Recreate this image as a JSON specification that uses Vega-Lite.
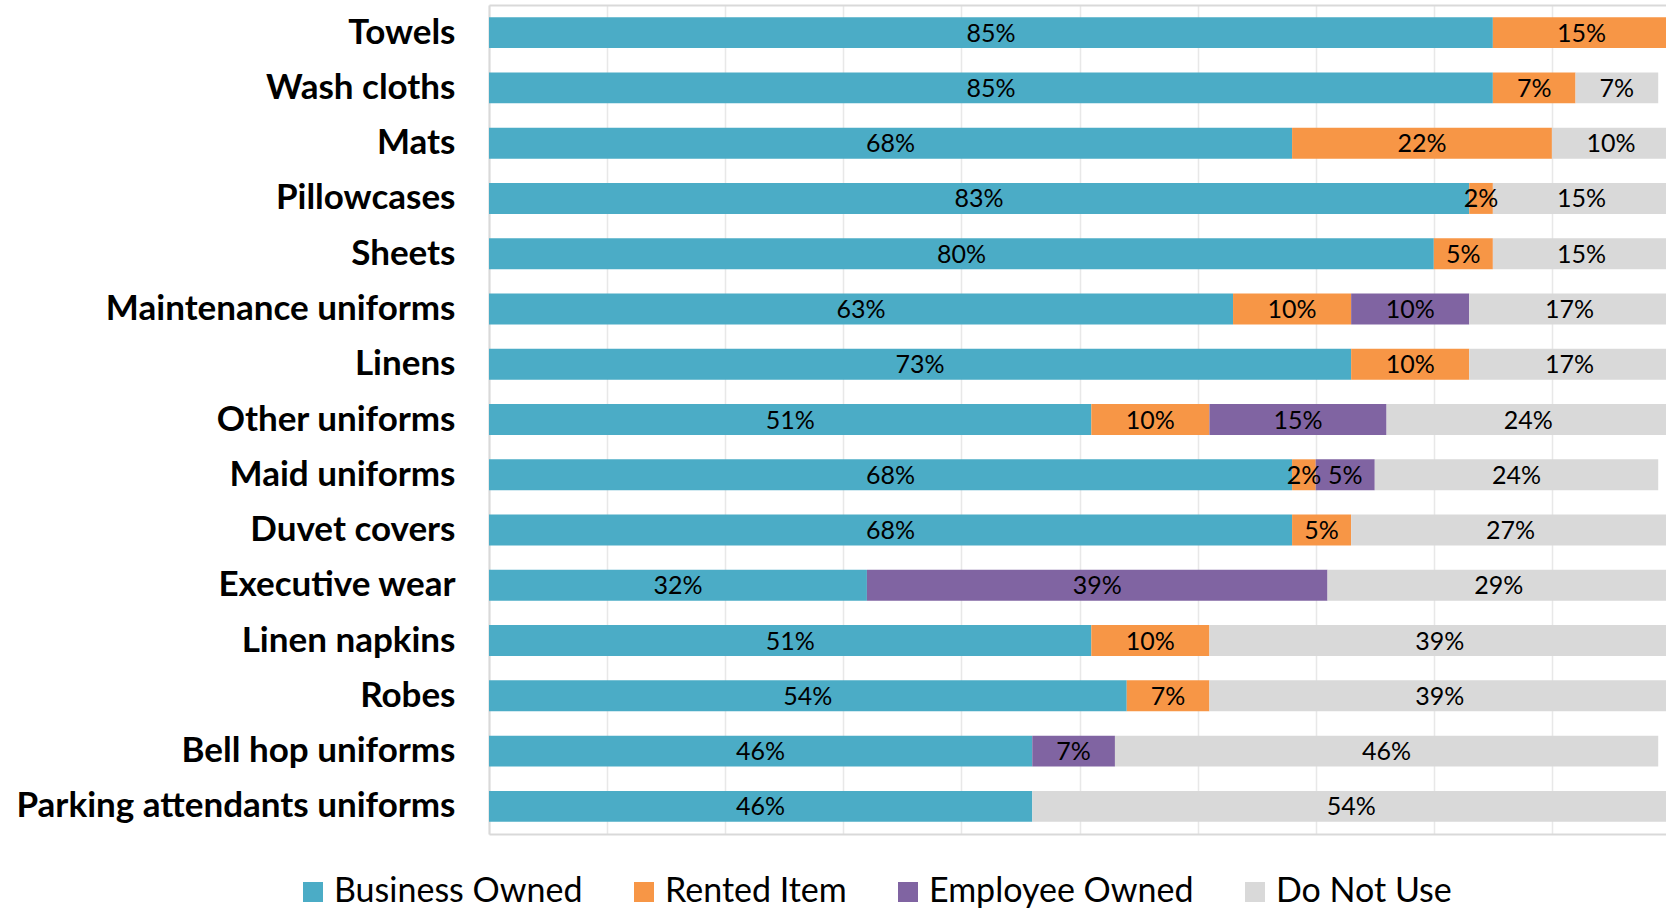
{
  "$schema": "https://vega.github.io/schema/vega-lite/v6.json",
  "autosize": {"type": "none"},
  "padding": {"left": 489, "top": 5, "right": 0, "bottom": 76},
  "width": 1177,
  "height": 829,
  "background": "white",
  "config": {"view": {"stroke": null}},
  "data": {"values": [
    {"item": "Towels", "type": "Business Owned", "value": 85},
    {"item": "Towels", "type": "Rented Item", "value": 15},
    {"item": "Wash cloths", "type": "Business Owned", "value": 85},
    {"item": "Wash cloths", "type": "Rented Item", "value": 7},
    {"item": "Wash cloths", "type": "Do Not Use", "value": 7},
    {"item": "Mats", "type": "Business Owned", "value": 68},
    {"item": "Mats", "type": "Rented Item", "value": 22},
    {"item": "Mats", "type": "Do Not Use", "value": 10},
    {"item": "Pillowcases", "type": "Business Owned", "value": 83},
    {"item": "Pillowcases", "type": "Rented Item", "value": 2},
    {"item": "Pillowcases", "type": "Do Not Use", "value": 15},
    {"item": "Sheets", "type": "Business Owned", "value": 80},
    {"item": "Sheets", "type": "Rented Item", "value": 5},
    {"item": "Sheets", "type": "Do Not Use", "value": 15},
    {"item": "Maintenance uniforms", "type": "Business Owned", "value": 63},
    {"item": "Maintenance uniforms", "type": "Rented Item", "value": 10},
    {"item": "Maintenance uniforms", "type": "Employee Owned", "value": 10},
    {"item": "Maintenance uniforms", "type": "Do Not Use", "value": 17},
    {"item": "Linens", "type": "Business Owned", "value": 73},
    {"item": "Linens", "type": "Rented Item", "value": 10},
    {"item": "Linens", "type": "Do Not Use", "value": 17},
    {"item": "Other uniforms", "type": "Business Owned", "value": 51},
    {"item": "Other uniforms", "type": "Rented Item", "value": 10},
    {"item": "Other uniforms", "type": "Employee Owned", "value": 15},
    {"item": "Other uniforms", "type": "Do Not Use", "value": 24},
    {"item": "Maid uniforms", "type": "Business Owned", "value": 68},
    {"item": "Maid uniforms", "type": "Rented Item", "value": 2},
    {"item": "Maid uniforms", "type": "Employee Owned", "value": 5},
    {"item": "Maid uniforms", "type": "Do Not Use", "value": 24},
    {"item": "Duvet covers", "type": "Business Owned", "value": 68},
    {"item": "Duvet covers", "type": "Rented Item", "value": 5},
    {"item": "Duvet covers", "type": "Do Not Use", "value": 27},
    {"item": "Executive wear", "type": "Business Owned", "value": 32},
    {"item": "Executive wear", "type": "Employee Owned", "value": 39},
    {"item": "Executive wear", "type": "Do Not Use", "value": 29},
    {"item": "Linen napkins", "type": "Business Owned", "value": 51},
    {"item": "Linen napkins", "type": "Rented Item", "value": 10},
    {"item": "Linen napkins", "type": "Do Not Use", "value": 39},
    {"item": "Robes", "type": "Business Owned", "value": 54},
    {"item": "Robes", "type": "Rented Item", "value": 7},
    {"item": "Robes", "type": "Do Not Use", "value": 39},
    {"item": "Bell hop uniforms", "type": "Business Owned", "value": 46},
    {"item": "Bell hop uniforms", "type": "Employee Owned", "value": 7},
    {"item": "Bell hop uniforms", "type": "Do Not Use", "value": 46},
    {"item": "Parking attendants uniforms", "type": "Business Owned", "value": 46},
    {"item": "Parking attendants uniforms", "type": "Do Not Use", "value": 54}
  ]},
  "transform": [
    {"calculate": "indexof(['Business Owned','Rented Item','Employee Owned','Do Not Use'], datum.type)", "as": "ord"},
    {"stack": "value", "groupby": ["item"], "sort": [{"field": "ord", "order": "ascending"}], "as": ["x0", "x1"]},
    {"calculate": "(datum.x0 + datum.x1) / 2", "as": "xm"},
    {"calculate": "datum.value + '%'", "as": "label"}
  ],
  "encoding": {
    "y": {
      "field": "item", "type": "nominal",
      "sort": ["Towels", "Wash cloths", "Mats", "Pillowcases", "Sheets", "Maintenance uniforms", "Linens", "Other uniforms", "Maid uniforms", "Duvet covers", "Executive wear", "Linen napkins", "Robes", "Bell hop uniforms", "Parking attendants uniforms"],
      "scale": {"paddingInner": 0.44, "paddingOuter": 0.22},
      "axis": {
        "title": null, "ticks": false, "domainColor": "#D9D9D9", "domainWidth": 2,
        "labelFont": "Lato", "labelFontWeight": "bold", "labelFontSize": 35, "labelColor": "#000000",
        "labelPadding": 34, "labelLimit": 480
      }
    }
  },
  "layer": [
    {
      "mark": {"type": "bar", "clip": true},
      "encoding": {
        "x": {
          "field": "x0", "type": "quantitative",
          "scale": {"domain": [0, 99.66], "nice": false, "zero": true},
          "axis": {
            "orient": "bottom", "title": null, "labels": false, "ticks": false,
            "values": [0, 10, 20, 30, 40, 50, 60, 70, 80, 90],
            "grid": true, "gridColor": "#E8E8E8", "gridWidth": 1.5,
            "domainColor": "#D9D9D9", "domainWidth": 2
          }
        },
        "x2": {"field": "x1"},
        "color": {
          "field": "type", "type": "nominal",
          "scale": {
            "domain": ["Business Owned", "Rented Item", "Employee Owned", "Do Not Use"],
            "range": ["#4BACC6", "#F79646", "#8064A2", "#D9D9D9"]
          },
          "legend": {
            "orient": "none", "legendX": -193, "legendY": 870,
            "direction": "horizontal", "title": null, "padding": 0,
            "symbolType": "square", "symbolSize": 400, "symbolStrokeWidth": 0, "symbolOpacity": 1,
            "labelFont": "Lato", "labelFontSize": 34, "labelColor": "#000000",
            "labelOffset": 4, "columnPadding": 44, "labelLimit": 400
          }
        }
      }
    },
    {
      "mark": {"type": "text", "font": "Lato", "fontSize": 25, "color": "#000000", "align": "center", "baseline": "middle", "dy": 1},
      "encoding": {
        "x": {
          "field": "xm", "type": "quantitative",
          "axis": {
            "orient": "top", "title": null, "labels": false, "ticks": false, "grid": false,
            "domainColor": "#D9D9D9", "domainWidth": 2
          }
        },
        "text": {"field": "label", "type": "nominal"}
      }
    }
  ],
  "resolve": {"axis": {"x": "independent"}}
}
